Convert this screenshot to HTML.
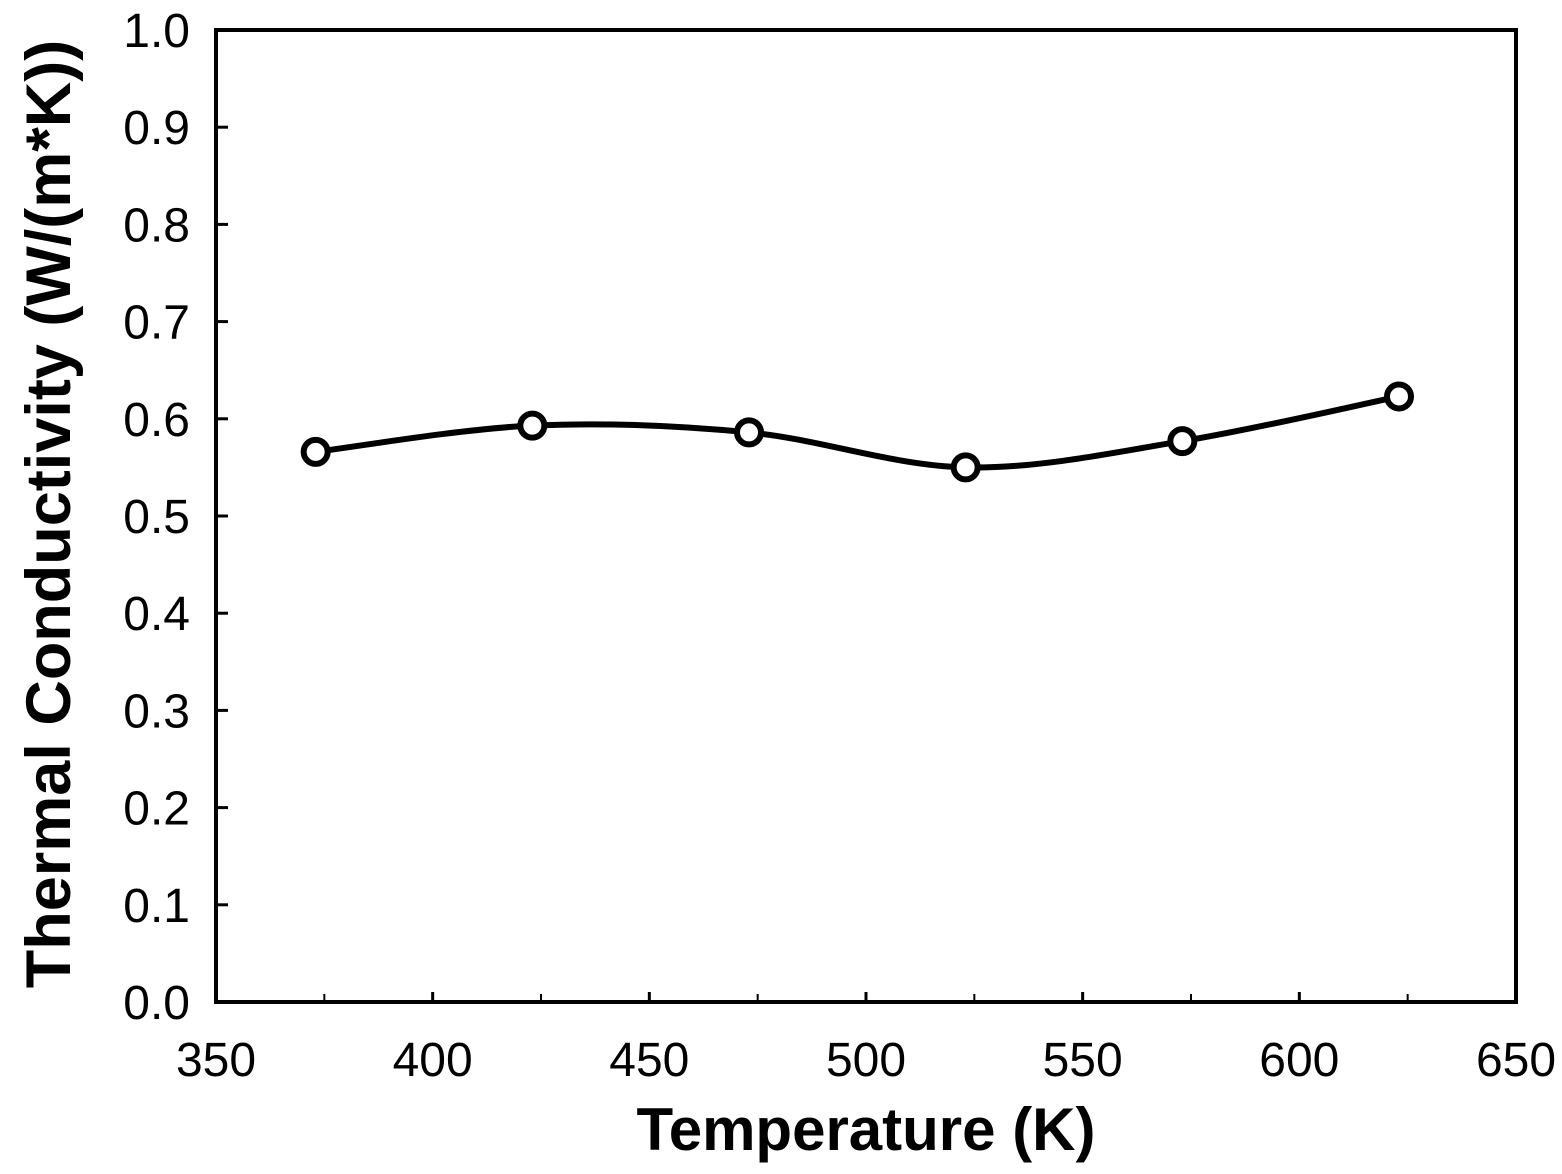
<!DOCTYPE html>
<html><head><meta charset="utf-8"><style>
html,body{margin:0;padding:0;background:#fff;}
svg{display:block;font-family:"Liberation Sans",Arial,sans-serif;}
</style></head><body>
<svg id="chart" width="1562" height="1174" viewBox="0 0 1562 1174" xmlns="http://www.w3.org/2000/svg">
<g id="axes"></g><g id="series"></g>
<text x="866" y="1150" text-anchor="middle" font-size="60" font-weight="bold">Temperature (K)</text>
<text transform="translate(70,514) rotate(-90)" text-anchor="middle" font-size="63" font-weight="bold">Thermal Conductivity (W/(m*K))</text>
</svg>
<script>
const temps=[373,423,473,523,573,623];
const conductivity=[0.566,0.593,0.586,0.550,0.577,0.623];
const xTicks=[350,400,450,500,550,600,650];
const yTicks=[0.0,0.1,0.2,0.3,0.4,0.5,0.6,0.7,0.8,0.9,1.0];
const L=216,R=1516,T=30,B=1002;
const xs=v=>L+(v-350)/300*(R-L);
const ys=v=>B-v/1.0*(B-T);
const NS="http://www.w3.org/2000/svg";
const axes=document.getElementById('axes'),series=document.getElementById('series');
function mk(tag,attrs,parent){const e=document.createElementNS(NS,tag);for(const k in attrs)e.setAttribute(k,attrs[k]);parent.appendChild(e);return e;}
const frame=mk('rect',{x:L,y:T,width:R-L,height:B-T,fill:'none',stroke:'#000','stroke-width':4},axes);


xTicks.forEach((v,i)=>{
  const t=mk('line',{x1:xs(v),x2:xs(v),y1:B,y2:B-10,stroke:'#000','stroke-width':3},axes);
  
  
  if(i<xTicks.length-1){const m=mk('line',{x1:xs(v+25),x2:xs(v+25),y1:B,y2:B-8,stroke:'#000','stroke-width':2},axes);
  
  }
  const lb=mk('text',{x:xs(v),y:1076,'text-anchor':'middle','font-size':48},axes);
  lb.textContent=v;
  
  
});
yTicks.forEach(v=>{
  const t=mk('line',{x1:L,x2:L+12,y1:ys(v),y2:ys(v),stroke:'#000','stroke-width':3},axes);
  
  
  const lb=mk('text',{x:190,y:ys(v)+17,'text-anchor':'end','font-size':48},axes);
  lb.textContent=v.toFixed(1);
  
  
});
const P=temps.map((t,i)=>[xs(t),ys(conductivity[i])]);
let d='M'+P[0][0]+','+P[0][1];
for(let i=0;i<P.length-1;i++){
  const p0=P[Math.max(0,i-1)],p1=P[i],p2=P[i+1],p3=P[Math.min(P.length-1,i+2)];
  const c1=[p1[0]+(p2[0]-p0[0])/6,p1[1]+(p2[1]-p0[1])/6];
  const c2=[p2[0]-(p3[0]-p1[0])/6,p2[1]-(p3[1]-p1[1])/6];
  d+=` C${c1[0]},${c1[1]} ${c2[0]},${c2[1]} ${p2[0]},${p2[1]}`;
}
const line=mk('path',{d:d,fill:'none',stroke:'#000','stroke-width':6},series);


P.forEach(p=>{
  const c=mk('circle',{cx:p[0],cy:p[1],r:12,fill:'#fff',stroke:'#000','stroke-width':6},series);
  
  
});
</script>
</body></html>
